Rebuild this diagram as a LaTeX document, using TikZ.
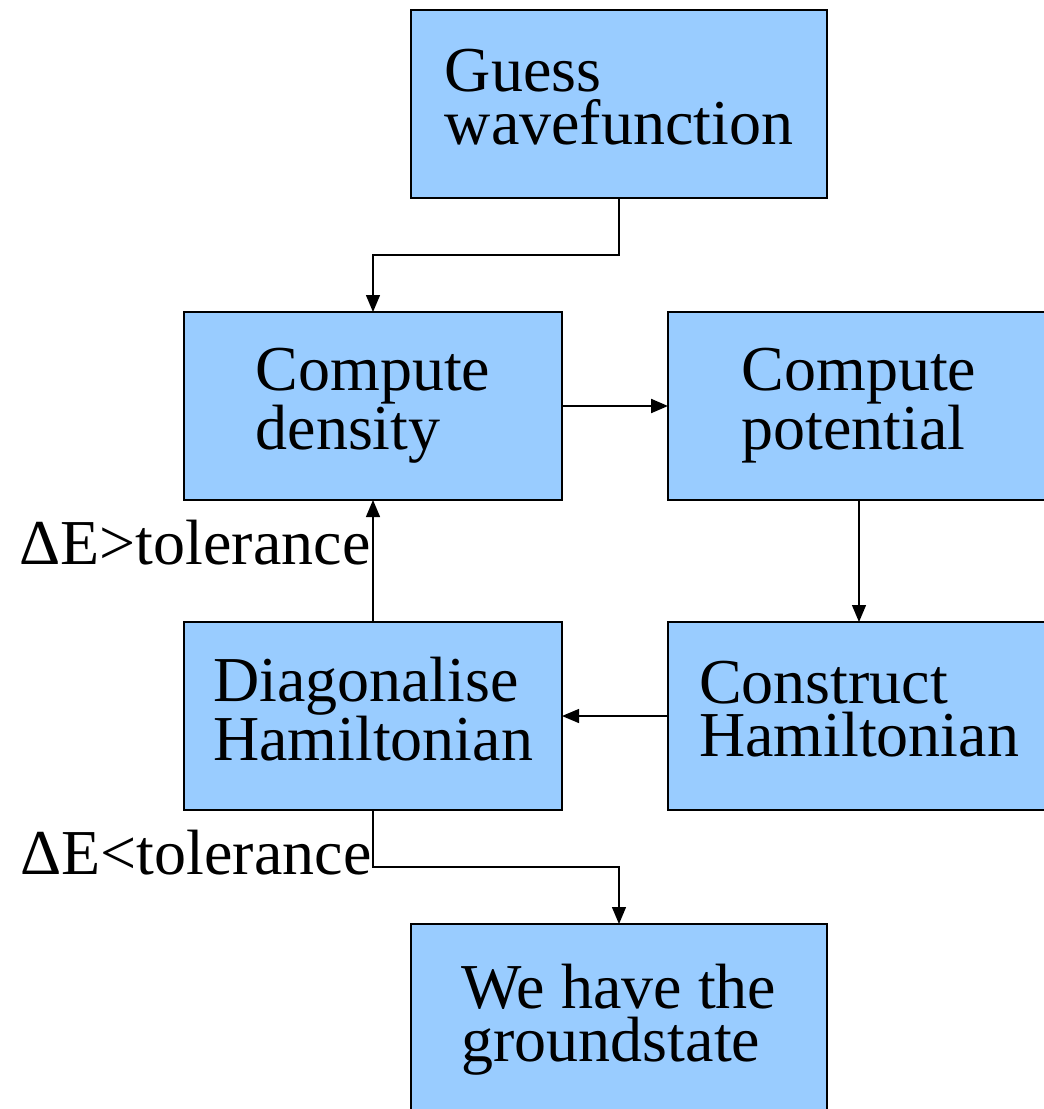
\documentclass[tikz,border=0pt]{standalone}
\usepackage{fontspec}
\setmainfont{Liberation Serif}
\usepackage{xcolor}
\usepackage{tikz}
\usetikzlibrary{positioning, arrows.meta, calc}

\definecolor{boxblue}{HTML}{99CCFF}
\newcommand{\linestrut}{\rule[-0.217em]{0pt}{0.9em}}

\begin{document}
\begin{tikzpicture}[x=1pt, y=-1pt,
  stepbox/.style={draw, line width=1.6pt, fill=boxblue, inner sep=0pt, outer sep=0pt,
    minimum height=188pt, align=left, font=\fontsize{64pt}{53pt}\selectfont,
    execute at begin node=\linestrut, execute at end node=\linestrut},
  arr/.style={-{Triangle[length=17pt, width=14pt]}, line width=1.3pt},
  lbl/.style={font=\fontsize{64pt}{53pt}\selectfont, inner sep=2pt}]
\useasboundingbox (0,0) rectangle (1044,1109);
\clip (0,0) rectangle (1044,1109);

\node[stepbox, minimum width=416pt] (guess) at (619,104) {Guess\\wavefunction};
\node[stepbox, minimum width=378pt, anchor=north west] (dens) at (184,312) {Compute\\density};
\node[stepbox, minimum width=382pt, right=106pt of dens] (pot) {Compute\\potential};
\node[stepbox, minimum width=378pt, below=122pt of dens] (diag) {Diagonalise\\Hamiltonian};
\node[stepbox, minimum width=382pt, right=106pt of diag] (cons) {Construct\\Hamiltonian};
\node[stepbox, minimum width=416pt, minimum height=192pt, anchor=north west] (ground) at (411,924) {We have the\\groundstate};

\draw[arr] (guess.south) -- ++(0,57) -| (dens.north);
\draw[arr, line width=2.2pt] (dens) -- (pot);
\draw[arr] (pot) -- (cons);
\draw[arr] (cons) -- (diag);
\draw[arr] (diag) -- node[lbl, left, pos=0.65] {ΔE>tolerance} (dens);
\draw[arr] (diag.south) -- node[lbl, left, pos=0.75, inner sep=1pt] {ΔE<tolerance} ++(0,57) -| (ground.north);
\end{tikzpicture}
\end{document}
